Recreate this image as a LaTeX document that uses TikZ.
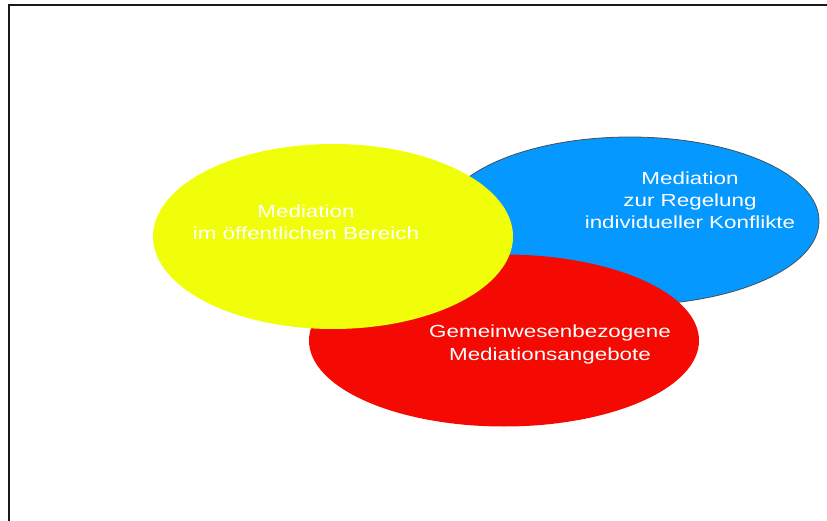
\documentclass[tikz,border=0pt]{standalone}
\usepackage{fontspec}
\newfontfamily\lab[FakeStretch=1.28]{Liberation Sans}
\definecolor{cyel}{RGB}{240,254,10}
\definecolor{cblu}{RGB}{5,153,255}
\definecolor{cred}{RGB}{244,10,3}
\definecolor{cout}{RGB}{70,80,90}
\begin{document}
\begin{tikzpicture}[x=1pt,y=-1pt,
  lbl/.style={text=white,align=center,inner sep=0pt,anchor=north,
    font=\lab\fontsize{17.5}{22}\selectfont}]
\useasboundingbox (0,0) rectangle (827,521);
% frame
\draw[line width=2pt,black!90] (8.5,522) -- (8.5,5.5) -- (828,5.5);
% ellipses
\filldraw[fill=cblu,draw=cout,line width=0.8pt] (630,221) ellipse [x radius=189,y radius=84];
\fill[cred] (504,340.5) ellipse [x radius=195,y radius=86];
\fill[cyel] (333,236.5) ellipse [x radius=180,y radius=92.5];
% labels
\node[lbl] (blue) at (690,171.2) {Mediation\\zur Regelung\\individueller Konflikte};
\node[lbl] (yellow) at (306,204.2) {Mediation\\im öffentlichen Bereich};
\node[lbl,font=\lab\fontsize{17.5}{23.5}\selectfont] (red) at (550,324.2) {Gemeinwesenbezogene\\Mediationsangebote};
\end{tikzpicture}
\end{document}
